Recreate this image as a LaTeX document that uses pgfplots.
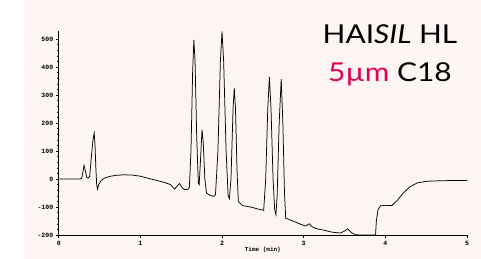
\documentclass[border=0pt]{standalone}
\usepackage{fontspec}
\setmainfont{Lato}
\setmonofont{Liberation Mono}
\usepackage{pgfplots}
\pgfplotsset{compat=1.18}
\definecolor{bgpink}{RGB}{253,245,243}
\definecolor{crim}{RGB}{226,0,82}
\begin{document}
\begin{tikzpicture}[x=1pt,y=1pt]
\path[use as bounding box] (0,0) rectangle (481,259);
\fill[bgpink] (24,0) rectangle (481,259);
\begin{axis}[
  at={(58.7pt,24pt)}, anchor=south west,
  scale only axis, width=408.3pt, height=204.4pt,
  xmin=0, xmax=5, ymin=-200, ymax=530,
  axis lines*=left,
  axis line style={line width=0.8pt},
  xtick={0,1,2,3,4,5}, ytick={-200,-100,0,100,200,300,400,500},
  minor x tick num=4, minor y tick num=4,
  tick align=outside,
  major tick length=3pt, minor tick length=1.5pt,
  tick style={black, line width=0.5pt},
  /pgf/number format/assume math mode=true,
  ticklabel style={font=\ttfamily\bfseries\fontsize{6.5}{7}\selectfont},
  yticklabel style={xshift=1pt},
  xlabel={Time (min)},
  xlabel style={font=\ttfamily\bfseries\fontsize{6}{7}\selectfont, yshift=6pt},
  clip=false,
]
\addplot[black, line width=0.75pt] coordinates {
(0.00,0) (0.25,0) (0.28,2) (0.30,30) (0.31,49) (0.325,30) (0.345,5) (0.36,3)
(0.38,10) (0.40,80) (0.42,140) (0.435,164) (0.445,120) (0.455,40) (0.465,-20)
(0.475,-36) (0.49,-20) (0.52,-5) (0.56,3) (0.62,9) (0.70,13) (0.80,15) (0.90,14)
(0.95,12) (1.00,10) (1.10,2) (1.20,-5) (1.30,-13) (1.37,-20) (1.40,-30) (1.42,-36)
(1.45,-25) (1.48,-16) (1.51,-30) (1.54,-38) (1.58,-37) (1.60,-30) (1.62,100)
(1.64,380) (1.655,497) (1.67,420) (1.69,150) (1.71,-15) (1.72,-20) (1.735,60)
(1.755,176) (1.77,130) (1.79,0) (1.81,-50) (1.85,-58) (1.90,-62) (1.92,-55)
(1.95,100) (1.98,420) (2.00,527) (2.02,420) (2.05,100) (2.075,-60) (2.09,-70)
(2.11,0) (2.135,250) (2.15,325) (2.165,250) (2.185,20) (2.20,-80) (2.25,-95)
(2.35,-100) (2.45,-108) (2.51,-112) (2.535,0) (2.56,250) (2.58,364) (2.60,250)
(2.625,0) (2.645,-110) (2.66,-128) (2.675,-60) (2.70,200) (2.725,357) (2.745,200)
(2.765,-50) (2.78,-140) (2.85,-148) (2.95,-160) (3.02,-168) (3.07,-160) (3.10,-170)
(3.15,-177) (3.25,-183) (3.35,-190) (3.45,-193) (3.50,-186) (3.54,-178) (3.58,-190)
(3.63,-199) (3.70,-200) (3.88,-200) (3.89,-150) (3.91,-110) (3.94,-96) (4.00,-94)
(4.08,-95) (4.15,-75) (4.22,-50) (4.30,-28) (4.39,-14) (4.51,-8) (4.70,-6) (5.00,-5)
};
\end{axis}
\node[anchor=base, font=\fontsize{26}{30}\selectfont, xscale=1.15] at (390,215.7) {HAI\textit{SIL} HL};
\node[anchor=base, font=\fontsize{26}{30}\selectfont, xscale=1.15] at (390,177.3) {\textcolor{crim}{5µm} C18};
\end{tikzpicture}
\end{document}
